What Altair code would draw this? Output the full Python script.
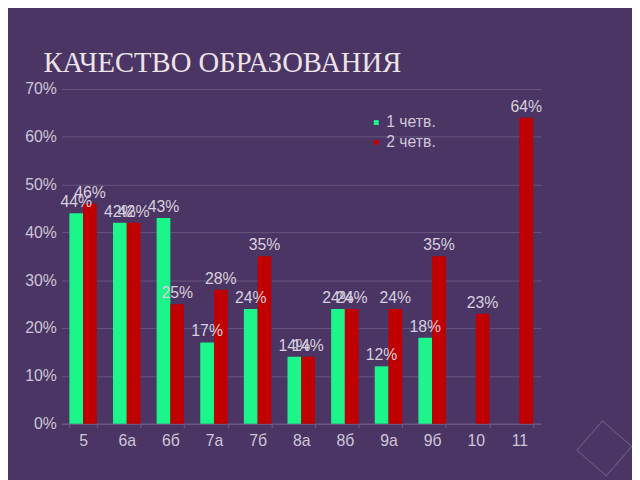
import altair as alt
import pandas as pd

classes = ["5", "6а", "6б", "7а", "7б", "8а", "8б", "9а", "9б", "10", "11"]
q1 = [0.44, 0.42, 0.43, 0.17, 0.24, 0.14, 0.24, 0.12, 0.18, None, None]
q2 = [0.46, 0.42, 0.25, 0.28, 0.35, 0.14, 0.24, 0.24, 0.35, 0.23, 0.64]
series = ["1 четв.", "2 четв."]
colors = ["#1cf58a", "#c00000"]
y_ticks = [0, 0.1, 0.2, 0.3, 0.4, 0.5, 0.6, 0.7]

rows = []
for i, c in enumerate(classes):
    if q1[i] is not None:
        rows.append({"class": c, "series": series[0], "value": q1[i]})
    if q2[i] is not None:
        rows.append({"class": c, "series": series[1], "value": q2[i]})
df = pd.DataFrame(rows)

BG = "#4a3565"
LBL = "#cfc6d8"

x = alt.X("class:N", sort=classes, title=None,
          scale=alt.Scale(paddingInner=0.37, paddingOuter=0.185),
          axis=alt.Axis(labelAngle=0, labelColor=LBL, labelFont="Liberation Sans",
                        labelFontSize=16, labelPadding=5, domainColor="#6e5e86",
                        tickColor="#6e5e86", tickSize=4, tickBand="extent", grid=False))
y = alt.Y("value:Q", title=None,
          scale=alt.Scale(domain=[0, 0.7], nice=False, zero=True),
          axis=alt.Axis(format=".0%", values=y_ticks, labelOverlap=False,
                        labelColor=LBL, labelFont="Liberation Sans", labelFontSize=16,
                        labelPadding=5, domain=False, ticks=False,
                        gridColor="#67577f", gridWidth=1))

base = alt.Chart(df).encode(
    x=x,
    xOffset=alt.XOffset("series:N", sort=series),
    y=y,
)

bars = base.mark_bar().encode(
    color=alt.Color("series:N", sort=series,
                    scale=alt.Scale(domain=series, range=colors),
                    legend=alt.Legend(title=None, orient="none", legendX=311, legendY=26,
                                      symbolType="square", symbolSize=25, labelOffset=2,
                                      labelColor=LBL, labelFont="Liberation Sans",
                                      labelFontSize=16, rowPadding=4, symbolStrokeWidth=0))
)

labels = base.mark_text(baseline="bottom", dy=-3, font="Liberation Sans",
                        fontSize=16, color="#d8d0de").encode(
    text=alt.Text("value:Q", format=".0%")
)

deco = alt.Chart(pd.DataFrame({"d": [0]})).mark_point(
    shape="square", size=1550, angle=41, filled=False, stroke="#7c6c96", strokeWidth=1
).encode(x=alt.value(550), y=alt.value(364))

chart = alt.layer(bars, labels, deco).properties(
    width=486, height=339,
    padding={"left": 54, "top": 79, "right": 92, "bottom": 54},
    autosize=alt.AutoSizeParams(type="none"),
    background=BG,
    title=alt.TitleParams("КАЧЕСТВО ОБРАЗОВАНИЯ", anchor="start", frame="bounds",
                          font="Liberation Serif", fontSize=29, fontWeight="normal",
                          color="#ece4e6", dx=19, offset=-20, baseline="alphabetic"),
).configure_view(stroke=None)

chart.save("out.html", embed_options={"renderer": "svg", "actions": False})
